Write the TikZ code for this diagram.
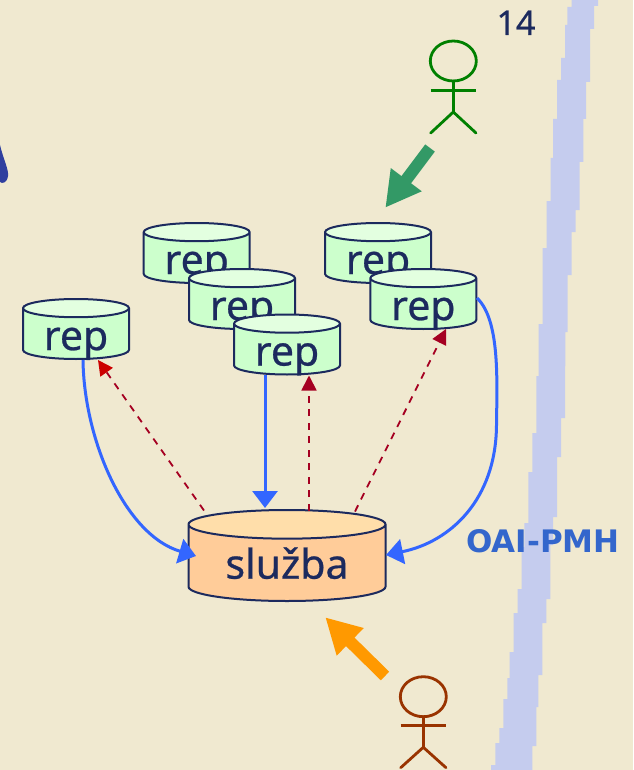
\documentclass[tikz,border=0pt]{standalone}
\usepackage{fontspec}
\setmainfont{Noto Sans}[FakeBold=0.6]
\newfontfamily\oaifont[BoldFont={DejaVu Sans Bold}]{DejaVu Sans}
\usetikzlibrary{shapes.geometric,arrows.meta,calc}
\definecolor{bgc}{HTML}{F0E9D0}
\definecolor{riverc}{HTML}{C5CCEE}
\definecolor{navyc}{HTML}{1C2A5E}
\definecolor{repbody}{HTML}{CCFFCC}
\definecolor{reptop}{HTML}{E3FFE0}
\definecolor{svcbody}{HTML}{FFCC99}
\definecolor{svctop}{HTML}{FFDEAA}
\definecolor{flowc}{HTML}{3366FF}
\definecolor{redone}{HTML}{CC0000}
\definecolor{redtwo}{HTML}{A50021}
\definecolor{greenfig}{HTML}{008000}
\definecolor{brownfig}{HTML}{993300}
\definecolor{greenarr}{HTML}{339966}
\definecolor{orangearr}{HTML}{FF9900}
\definecolor{oaic}{HTML}{3366CC}
\definecolor{blobc}{HTML}{2F3F9F}
\newcommand{\cyltext}[2]{\smash{\raisebox{#1}{#2}}}
\tikzset{
  cyl/.style={cylinder,shape border rotate=90,draw=navyc,line width=2pt,inner sep=0pt,outer sep=0pt,anchor=shape center,
    cylinder uses custom fill,text=navyc,font=\fontsize{41}{41}\selectfont},
  repo/.style={cyl,minimum width=106pt,minimum height=60pt,aspect=0.283,
    cylinder body fill=repbody,cylinder end fill=reptop},
  svc/.style={cyl,minimum width=197pt,minimum height=91pt,aspect=0.233,
    cylinder body fill=svcbody,cylinder end fill=svctop},
  flow/.style={draw=flowc,line width=3pt,-{Triangle[length=17pt,width=25pt]}},
  req/.style={line width=1.8pt,dash pattern=on 7pt off 6.5pt},
  bigarrow/.style={line width=12pt,-{Triangle[length=35pt,width=36pt]}},
  head/.style={ellipse,draw,line width=2.8pt,minimum width=46pt,minimum height=40pt,inner sep=0pt,outer sep=0pt},
  limb/.style={line width=2.8pt,line cap=round}
}
\begin{document}
\begin{tikzpicture}[x=1pt,y=-1pt]
\useasboundingbox (0,0) rectangle (633,770);
\fill[bgc] (0,0) rectangle (633,770);
% river
\fill[riverc] (571.7,0) |- (567.3,7) |- (565,25) |- (561,58) |- (557,80) |- (553,119) |- (550.7,158) |- (546.7,201)
  |- (542.7,248) |- (538.7,324) |- (536.3,376) |- (532.3,433) |- (528.3,472) |- (524.3,523) |- (521.7,547)
  |- (517.7,589) |- (513.7,613) |- (509.7,652) |- (507.3,678) |- (503.3,699) |- (499.3,728) |- (495.3,743)
  |- (491,765) |- (491,770) -- (532.3,770)
  |- (536.3,746) |- (538.3,707) |- (542.3,675) |- (546.3,623) |- (550.3,599) |- (553,545) |- (557,517)
  |- (561,457) |- (565,418) |- (565.3,366) |- (567.7,332) |- (571.7,275) |- (575.7,232) |- (579.7,210)
  |- (583.3,162) |- (586,119) |- (590,82) |- (594,29) |- (598,6) |- (598,0) -- cycle;
% blob at the left edge
\fill[blobc] (0,145) .. controls (3,158) and (9,170) .. (8,176) .. controls (7,183) and (2,184) .. (0,182) -- cycle;
% page number
\node[text=navyc,font=\fontsize{34}{34}\selectfont,anchor=base] (pagenum) at (516,35) {14};
% repositories
\node[repo] (rA) at (196.7,253) {\cyltext{-16pt}{rep}};
\node[repo] (rB) at (242,299) {\cyltext{-16pt}{rep}};
\node[repo] (rC) at (287,344.5) {\cyltext{-16pt}{rep}};
\node[repo] (rD) at (378,253) {\cyltext{-16pt}{rep}};
\node[repo] (rE) at (423.3,299) {\cyltext{-16pt}{rep}};
\node[repo] (rL) at (76,329) {\cyltext{-16pt}{rep}};
\node[svc] (svc) at (287,555.5) {\cyltext{-15.5pt}{služba}};
% label
\node[text=oaic,font=\oaifont\bfseries\fontsize{31}{31}\selectfont,anchor=base] (oai) at (543,552.7) {OAI-PMH};
% harvesting connectors
\draw[flow] ($(rL.shape center)+(7,31)$) .. controls (84,440) and (125,535) .. ($(svc.shape center)+(-91,0.5)$);
\draw[flow] ($(rC.shape center)+(-22,30)$) -- ($(svc.shape center)+(-22,-47.5)$);
\draw[flow] ($(rE.shape center)+(53.7,-1)$) .. controls (500,320) and (497,380) .. (496.5,425) .. controls (496,500) and (450,542) .. ($(svc.shape center)+(99,-0.5)$);
% requests
\draw[req,draw=redtwo,-{Triangle[length=15pt,width=15pt,color=redone,fill=redone]}] ($(svc.shape center)+(-83,-45)$) -- ($(rL.shape center)+(22,31)$);
\draw[req,draw=redtwo,-{Triangle[length=15pt,width=15pt,fill=redtwo]}] ($(svc.shape center)+(22,-45)$) -- ($(rC.shape center)+(22,31)$);
\draw[req,draw=redtwo,-{Triangle[length=15pt,width=15pt,fill=redtwo]}] ($(svc.shape center)+(68,-44)$) -- ($(rE.shape center)+(22.7,30)$);
% green actor
\node[head,draw=greenfig] (hG) at (453.3,61) {};
\coordinate (hipG) at (453.3,112);
\coordinate (armGl) at (430.7,90.7);
\coordinate (armGr) at (476,90.7);
\coordinate (legGl) at (430.7,133);
\coordinate (legGr) at (476,133);
\draw[limb,draw=greenfig] (hG.south) -- (hipG);
\draw[limb,draw=greenfig,line cap=butt] (armGl) -- (armGr);
\draw[limb,draw=greenfig] (legGl) -- (hipG) -- (legGr);
% brown actor
\node[head,draw=brownfig] (hB) at (423.3,696.7) {};
\coordinate (hipB) at (423.3,747.3);
\coordinate (armBl) at (400.7,725.7);
\coordinate (armBr) at (446,725.7);
\coordinate (legBl) at (400.7,767.7);
\coordinate (legBr) at (446,767.7);
\draw[limb,draw=brownfig] (hB.south) -- (hipB);
\draw[limb,draw=brownfig,line cap=butt] (armBl) -- (armBr);
\draw[limb,draw=brownfig] (legBl) -- (hipB) -- (legBr);
% big arrows
\coordinate (gTail) at (430,148);
\coordinate (gTip) at (385.3,207.7);
\coordinate (oTail) at (385,676);
\coordinate (oTip) at (325.3,617.3);
\draw[bigarrow,draw=greenarr] (gTail) -- (gTip);
\draw[bigarrow,draw=orangearr] (oTail) -- (oTip);
\end{tikzpicture}
\end{document}
